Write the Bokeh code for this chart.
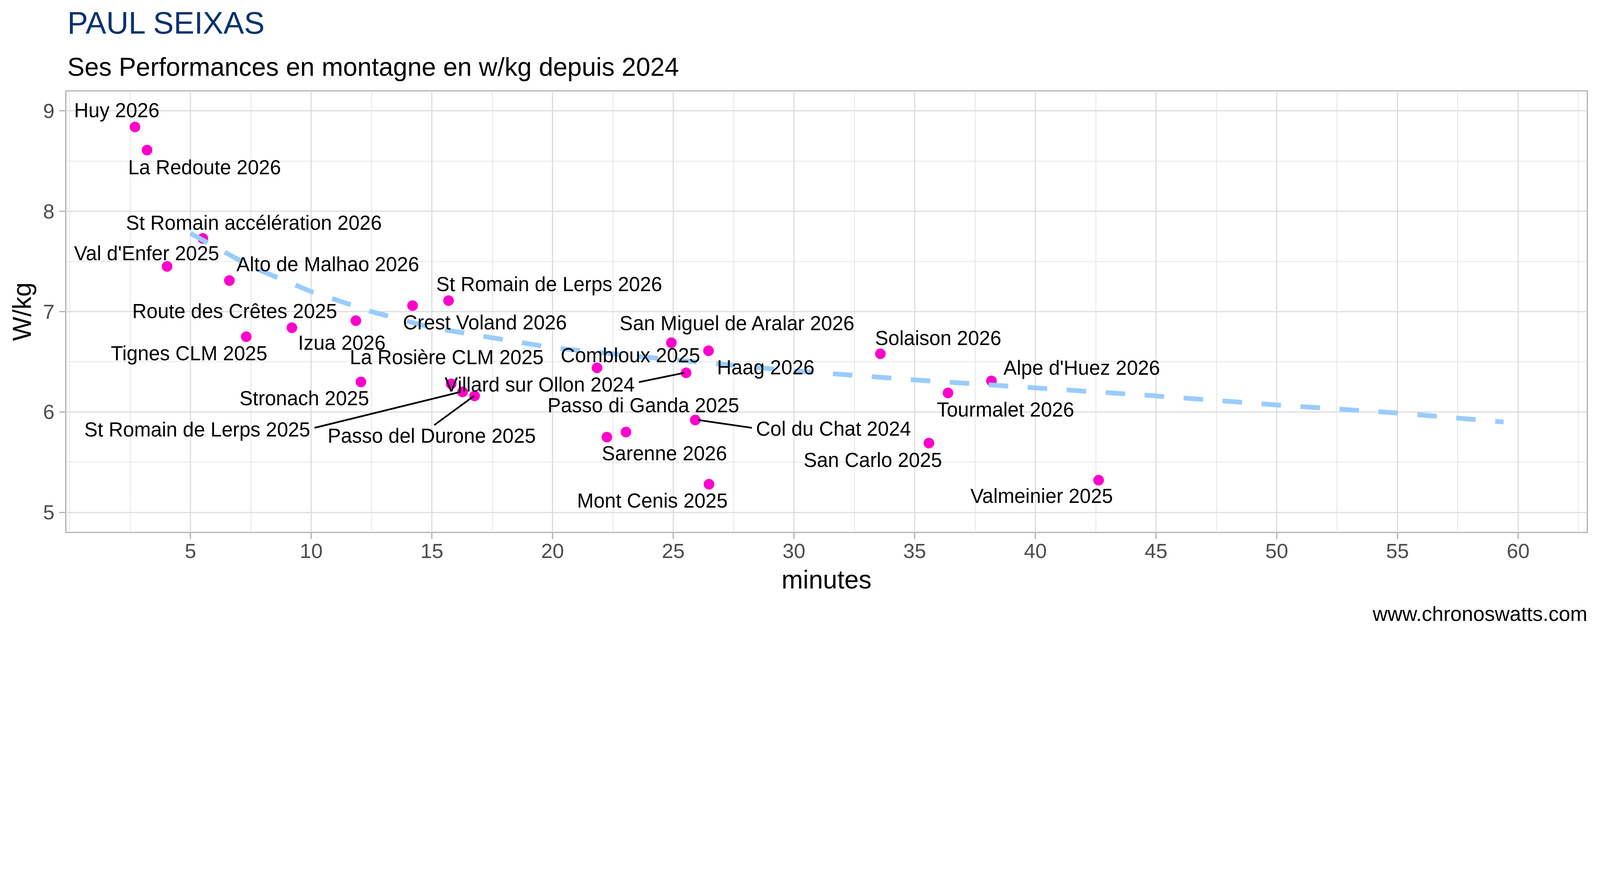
from bokeh.plotting import figure
from bokeh.models import Range1d, FixedTicker, Title, ColumnDataSource
from bokeh.embed import file_html
from bokeh.resources import INLINE
from bokeh.core.properties import value

# ---------------- data ----------------
climbs = [
    "Huy 2026", "La Redoute 2026", "St Romain accélération 2026", "Val d'Enfer 2025",
    "Alto de Malhao 2026", "Crest Voland 2026", "St Romain de Lerps 2026", "Izua 2026",
    "Route des Crêtes 2025", "Tignes CLM 2025", "Stronach 2025", "La Rosière CLM 2025",
    "St Romain de Lerps 2025", "Passo del Durone 2025", "Combloux 2025",
    "San Miguel de Aralar 2026", "Haag 2026", "Villard sur Ollon 2024", "Col du Chat 2024",
    "Passo di Ganda 2025", "Sarenne 2026", "Mont Cenis 2025", "Solaison 2026",
    "Tourmalet 2026", "Alpe d'Huez 2026", "San Carlo 2025", "Valmeinier 2025",
]
minutes = [2.70, 3.20, 5.51, 4.03, 6.61, 14.20, 15.69, 11.85, 9.20, 7.31, 12.06, 15.80,
           16.27, 16.77, 21.84, 24.92, 26.46, 25.53, 25.91, 23.04, 22.25, 26.48, 33.58,
           36.38, 38.18, 35.59, 42.62]
wkg = [8.84, 8.61, 7.73, 7.45, 7.31, 7.06, 7.11, 6.91, 6.84, 6.75, 6.30, 6.28,
       6.20, 6.16, 6.44, 6.69, 6.61, 6.39, 5.92, 5.80, 5.75, 5.28, 6.58,
       6.19, 6.31, 5.69, 5.32]

trend_minutes = [5, 7.5, 10, 12.5, 15, 20, 25, 30, 35, 40, 45, 50, 55, 59.4]
trend_wkg = [7.78, 7.45, 7.20, 7.00, 6.84, 6.64, 6.52, 6.41, 6.32, 6.24, 6.16, 6.07, 5.99, 5.90]

x_ticks = [5, 10, 15, 20, 25, 30, 35, 40, 45, 50, 55, 60]
y_ticks = [5, 6, 7, 8, 9]

title_text = "PAUL SEIXAS"
subtitle_text = "Ses Performances en montagne en w/kg depuis 2024"
caption_text = "www.chronoswatts.com"

# ---------------- layout ----------------
S = 4096 / 5706  # reference pixels -> page pixels


def px(v):
    return v * S


def ipx(v):
    return int(round(v * S))


# label offsets relative to each point (reference pixels, +y downward), baseline anchored
label_dx = [-65, 205, 182, -73, 351, 258, 359, -50, -204, -204, -202, -16,
            -946, -153, 119, 236, 204, -522, 493, 62, 205, -202, 206,
            205, 322, -200, -203]
label_dy = [-34, 87, -30, -22, -33, 85, -33, 104, -33, 85, 84, -70,
            160, 168, -19, -44, 85, 67, 56, -70, 84, 84, -31,
            85, -21, 85, 82]
LABEL_SHIFT = -25  # renderer baseline correction (reference pixels)
# connector segments: (point index, start dx, start dy, end dx, end dy) in reference pixels
connectors = [
    (12, -528, 128, -7, 0),
    (13, -144, 104, -2, 0),
    (17, -168, 33, -7, 0),
    (18, 11, 0, 202, 28),
]

W, H = 4096, 1633
FL, FT = 168, 232
FR = W - 4063
FB = H - 1362
XR = (-0.165, 62.865)
YR = (4.8, 9.2)
FW = W - FL - FR
FH = H - FT - FB
dpx_x = (XR[1] - XR[0]) / FW
dpx_y = (YR[1] - YR[0]) / FH

FONT = "Liberation Sans"
GREY70 = "#B3B3B3"
GRID = "#DEDEDE"
F_TITLE = f"{px(110):.1f}px"
F_SUB = f"{px(91.7):.1f}px"
F_AXIS = f"{px(73.3):.1f}px"
F_LABEL = f"{px(71.1):.1f}px"

p = figure(width=W, height=H, x_range=Range1d(*XR), y_range=Range1d(*YR),
           output_backend="svg", toolbar_location=None,
           min_border_left=FL, min_border_right=FR, min_border_top=FT, min_border_bottom=FB,
           background_fill_color="white", border_fill_color="white",
           outline_line_color=GREY70, outline_line_width=px(4.4))
p.title.visible = False

x_minor = [0] + [t - 2.5 for t in x_ticks] + [x_ticks[-1] + 2.5]
y_minor = [t + 0.5 for t in y_ticks[:-1]]
p.xaxis.ticker = FixedTicker(ticks=x_ticks, minor_ticks=x_minor)
p.yaxis.ticker = FixedTicker(ticks=y_ticks, minor_ticks=y_minor)

for ax in (p.xaxis[0], p.yaxis[0]):
    ax.axis_line_color = None
    ax.major_tick_line_color = GREY70
    ax.major_tick_line_width = px(4.4)
    ax.major_tick_out = ipx(23)
    ax.major_tick_in = 0
    ax.minor_tick_line_color = None
    ax.major_label_text_font = FONT
    ax.major_label_text_font_size = F_AXIS
    ax.major_label_text_color = "#4D4D4D"
    ax.axis_label_text_font = FONT
    ax.axis_label_text_font_size = F_SUB
    ax.axis_label_text_font_style = "normal"
    ax.axis_label_text_color = "black"

p.xaxis.axis_label = "minutes"
p.yaxis.axis_label = "W/kg"
p.xaxis.major_label_standoff = 12
p.yaxis.major_label_standoff = ipx(17)
p.xaxis.axis_label_standoff = 15
p.yaxis.axis_label_standoff = ipx(20)

for g in (p.xgrid[0], p.ygrid[0]):
    g.grid_line_color = GRID
    g.grid_line_width = px(4.4)
    g.minor_grid_line_color = GRID
    g.minor_grid_line_width = px(2.2)

src = ColumnDataSource(dict(x=minutes, y=wkg, name=climbs,
                            dx=[px(v) for v in label_dx],
                            dy=[px(v + LABEL_SHIFT) for v in label_dy]))

p.scatter("x", "y", source=src, size=px(38), fill_color="#FF00CC", line_color=None)

p.line(trend_minutes, trend_wkg, line_color="#99CCFF", line_width=px(17),
       line_dash=f"{ipx(70)} {ipx(70)}")

x0s, y0s, x1s, y1s = [], [], [], []
for i, sdx, sdy, edx, edy in connectors:
    x0s.append(minutes[i] + px(sdx) * dpx_x)
    y0s.append(wkg[i] - px(sdy) * dpx_y)
    x1s.append(minutes[i] + px(edx) * dpx_x)
    y1s.append(wkg[i] - px(edy) * dpx_y)
p.segment(x0s, y0s, x1s, y1s, line_color="black", line_width=px(6))

p.text("x", "y", text="name", source=src, x_offset="dx", y_offset="dy",
       text_align="center", text_baseline="alphabetic",
       text_font=value(FONT), text_font_size=F_LABEL, text_color="black")

# subtitle first (closest to the frame), then title above it
p.add_layout(Title(text=subtitle_text, align="left", text_font=FONT, text_font_size=F_SUB,
                   text_font_style="normal", text_color="black", standoff=50,
                   offset=4), "above")
p.add_layout(Title(text=title_text, align="left", text_font=FONT, text_font_size=F_TITLE,
                   text_font_style="normal", text_color="#08326F", standoff=8,
                   offset=4), "above")
p.add_layout(Title(text=caption_text, align="right", text_font=FONT, text_font_size=F_AXIS,
                   text_font_style="normal", text_color="black", standoff=33,
                   offset=0), "below")

open("out.html", "w").write(file_html(p, INLINE))
